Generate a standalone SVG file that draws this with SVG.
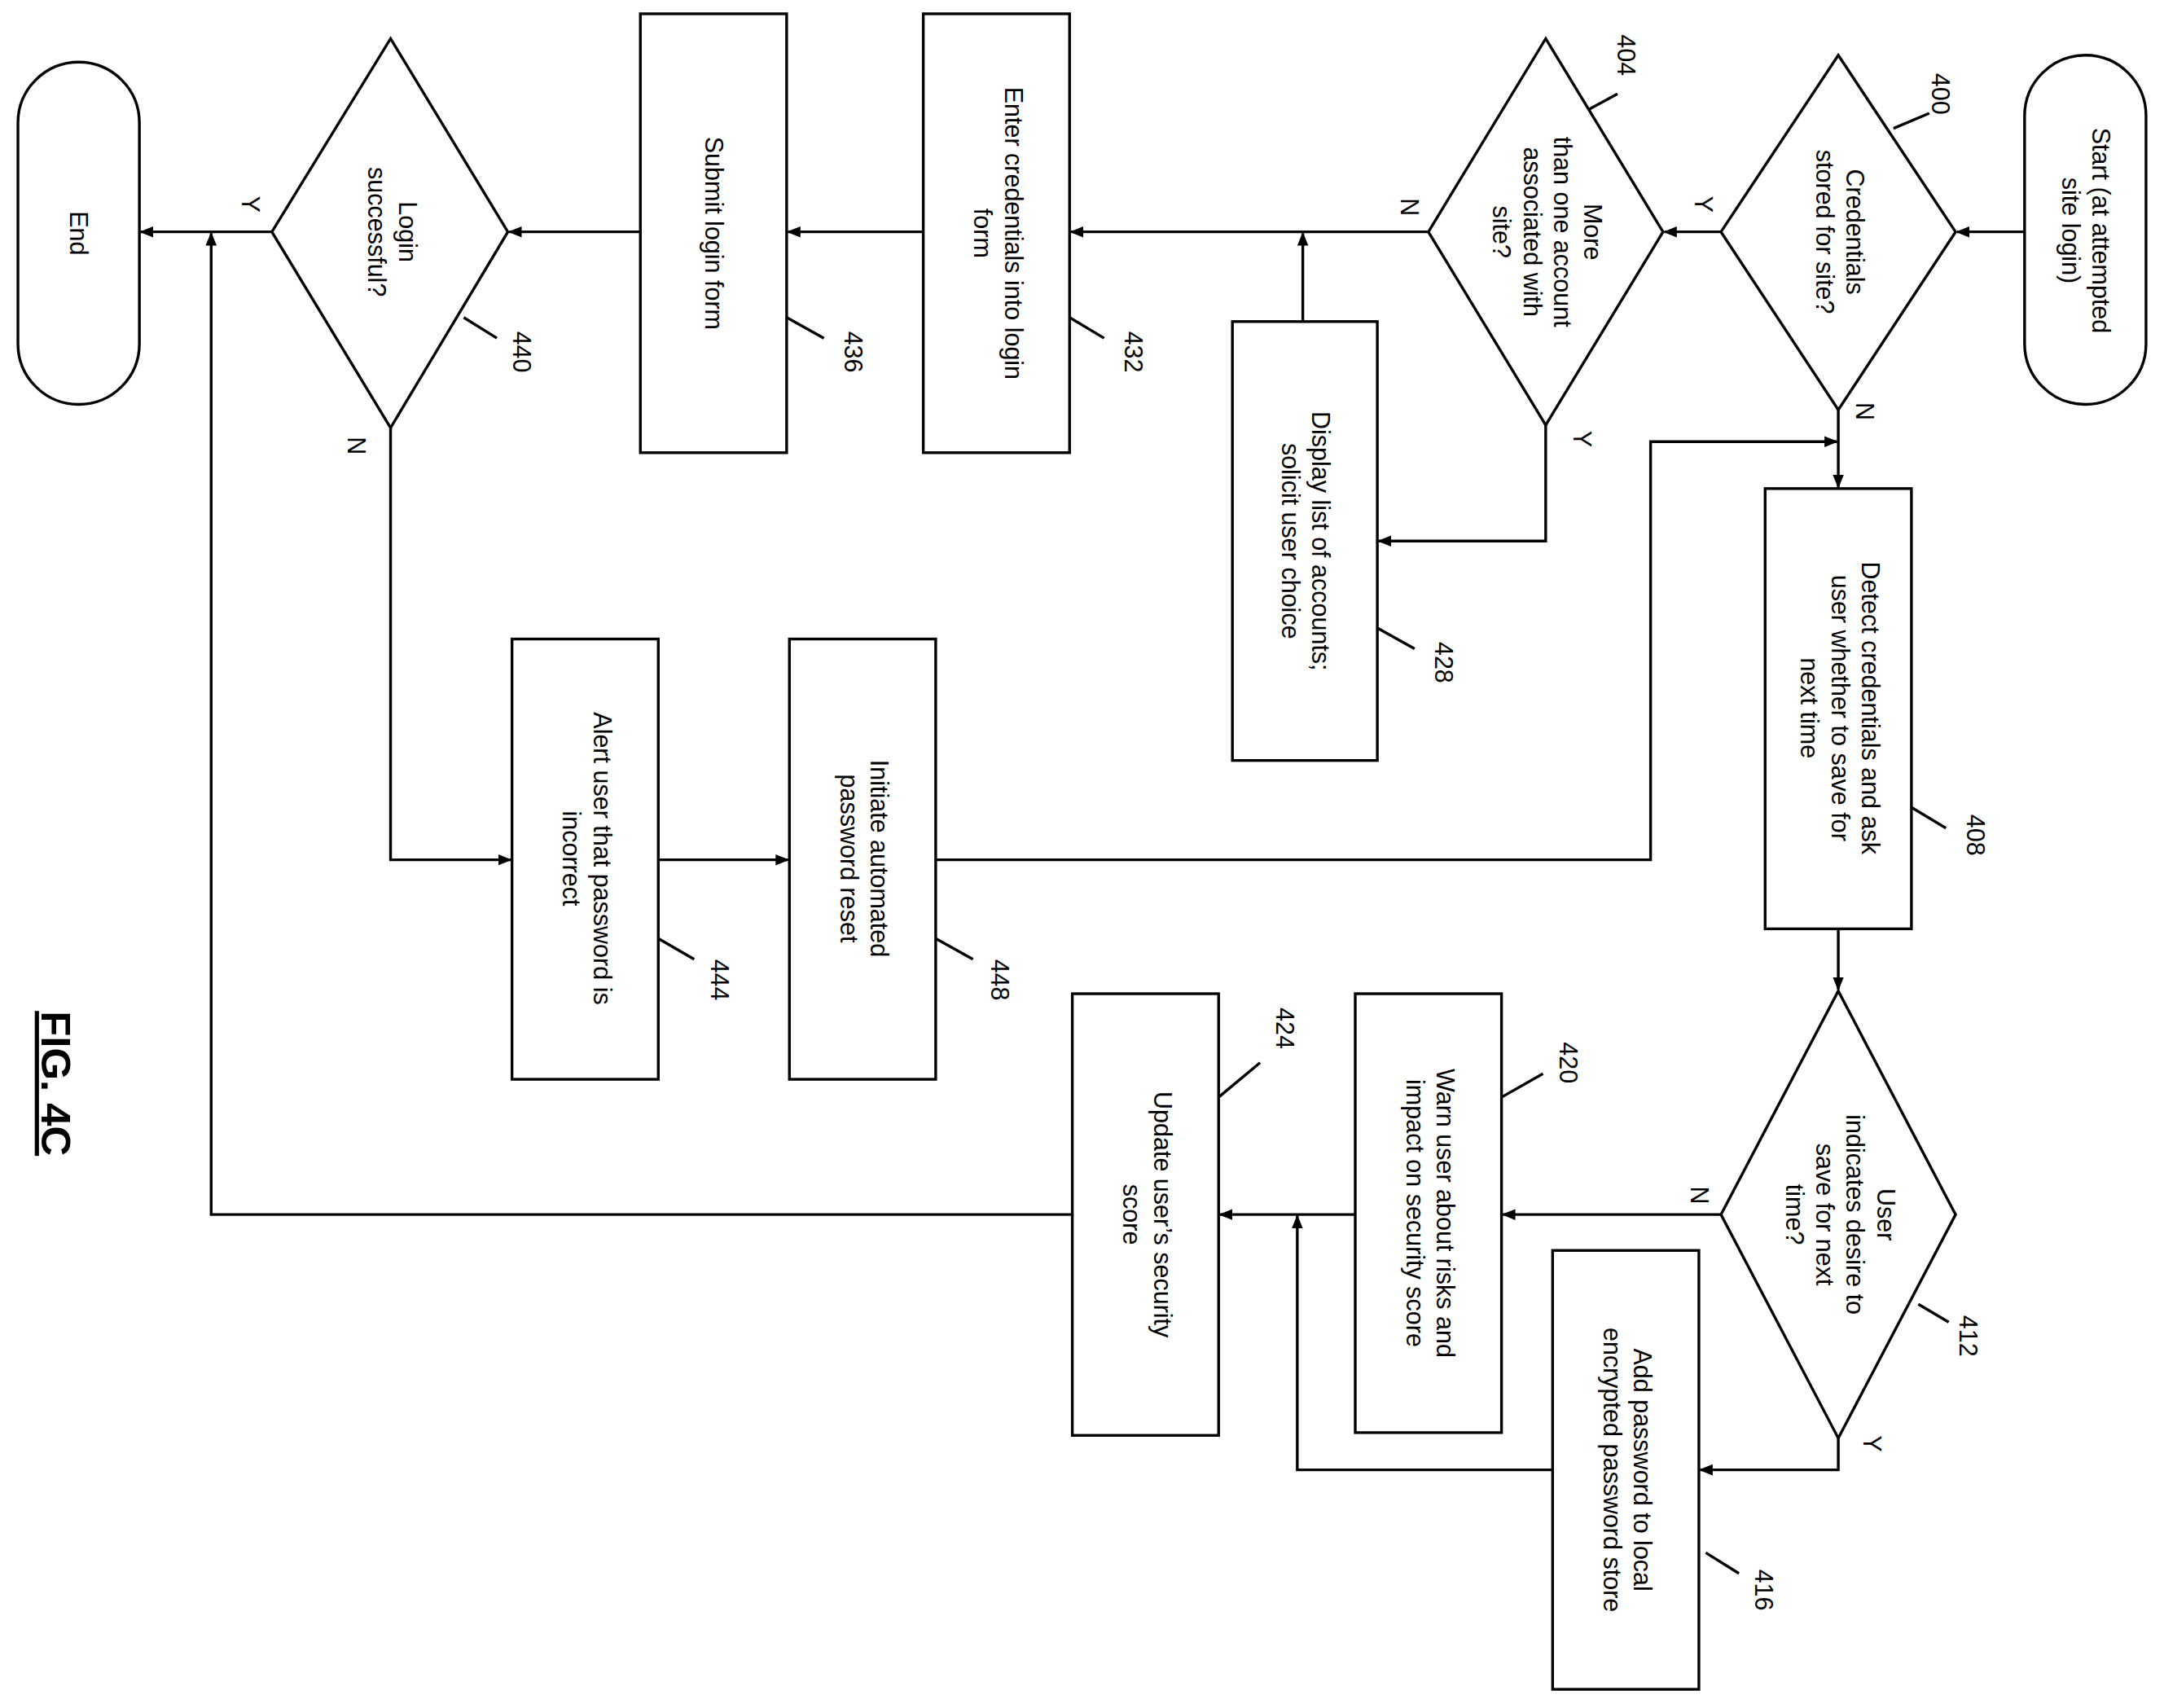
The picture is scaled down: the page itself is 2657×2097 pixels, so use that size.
<svg xmlns="http://www.w3.org/2000/svg" width="2657" height="2097" viewBox="0 0 2657 2097">
<defs><marker id="a" markerWidth="10" markerHeight="10" refX="9" refY="5" orient="auto" markerUnits="userSpaceOnUse"><path d="M0,1 L10,5 L0,9 z" fill="#000"/></marker>
<style>.s{fill:#fff;stroke:#000;stroke-width:2}.c{fill:none;stroke:#000;stroke-width:2}.t{font-family:"Liberation Sans",Arial,sans-serif;font-size:18px;text-anchor:middle}</style></defs>
<rect width="2657" height="2097" fill="#fff"/>
<g transform="scale(1.6945)">
<g id="connectors">
<path class="c" marker-end="url(#a)" d="M1467,168H1418"/>
<path class="c" marker-end="url(#a)" d="M1247,168H1206"/>
<path class="c" marker-end="url(#a)" d="M1332,297V353"/>
<path class="c" marker-end="url(#a)" d="M1035,168H776"/>
<path class="c" marker-end="url(#a)" d="M1120,308V392H999"/>
<path class="c" marker-end="url(#a)" d="M944,233V169"/>
<path class="c" marker-end="url(#a)" d="M669,168H571"/>
<path class="c" marker-end="url(#a)" d="M464,168H369"/>
<path class="c" marker-end="url(#a)" d="M197,168H102"/>
<path class="c" marker-end="url(#a)" d="M283,310V623H370"/>
<path class="c" marker-end="url(#a)" d="M477,623H571"/>
<path class="c" marker-end="url(#a)" d="M678,623H1196V320H1331"/>
<path class="c" marker-end="url(#a)" d="M1332,673V717"/>
<path class="c" marker-end="url(#a)" d="M1247,880H1089"/>
<path class="c" marker-end="url(#a)" d="M1332,1042V1065H1232"/>
<path class="c" marker-end="url(#a)" d="M1125,1065H940V881"/>
<path class="c" marker-end="url(#a)" d="M982,880H884"/>
<path class="c" marker-end="url(#a)" d="M777,880H153V169"/>
<g class="c"><path d="M1372,93L1398,82"/><path d="M1150,80L1172,68"/><path d="M1385,585L1410,600"/><path d="M1390,945L1412,958"/><path d="M1236,1125L1260,1140"/><path d="M1088,795L1118,778"/><path d="M883,795L913,770"/><path d="M998,455L1025,470"/><path d="M775,230L800,245"/><path d="M570,230L597,245"/><path d="M336,230L360,245"/><path d="M477,680L503,695"/><path d="M678,680L705,695"/></g>
<g class="t"><text transform="translate(1228,148) rotate(90)">Y</text><text transform="translate(1345,298) rotate(90)">N</text><text transform="translate(1015,150) rotate(90)">N</text><text transform="translate(1140,318) rotate(90)">Y</text><text transform="translate(175,148) rotate(90)">Y</text><text transform="translate(252,323) rotate(90)">N</text><text transform="translate(1225,866) rotate(90)">N</text><text transform="translate(1350,1046) rotate(90)">Y</text></g>
</g>
<g class="t">
<g id="start"><rect class="s" x="1467" y="40" width="88" height="253" rx="44"/><text transform="translate(1510,167) rotate(90)"><tspan x="0" y="-6">Start (at attempted</tspan><tspan x="0" y="16">site login)</tspan></text></g>
<g id="n400"><path class="s" d="M1332,40L1417,168L1332,297L1247,168z"/><text transform="translate(1332,168) rotate(90)"><tspan x="0" y="-6">Credentials</tspan><tspan x="0" y="16">stored for site?</tspan></text><text transform="translate(1400,68) rotate(90)">400</text></g>
<g id="n404"><path class="s" d="M1120,28L1205,168L1120,308L1035,168z"/><text transform="translate(1120,168) rotate(90)"><tspan x="0" y="-28">More</tspan><tspan x="0" y="-6">than one account</tspan><tspan x="0" y="16">associated with</tspan><tspan x="0" y="38">site?</tspan></text><text transform="translate(1172,40) rotate(90)">404</text></g>
<g id="n428"><rect class="s" x="893" y="233" width="105" height="318"/><text transform="translate(945,392) rotate(90)"><tspan x="0" y="-6">Display list of accounts;</tspan><tspan x="0" y="16">solicit user choice</tspan></text><text transform="translate(1040,480) rotate(90)">428</text></g>
<g id="n432"><rect class="s" x="669" y="10" width="106" height="318"/><text transform="translate(722,169) rotate(90)"><tspan x="0" y="-6">Enter credentials into login</tspan><tspan x="0" y="16">form</tspan></text><text transform="translate(815,255) rotate(90)">432</text></g>
<g id="n436"><rect class="s" x="464" y="10" width="106" height="318"/><text transform="translate(517,169) rotate(90)" y="6">Submit login form</text><text transform="translate(612,255) rotate(90)">436</text></g>
<g id="n440"><path class="s" d="M283,28L368,168L283,310L197,168z"/><text transform="translate(283,168) rotate(90)"><tspan x="0" y="-6">Login</tspan><tspan x="0" y="16">successful?</tspan></text><text transform="translate(372,255) rotate(90)">440</text></g>
<g id="end"><rect class="s" x="13" y="45" width="88" height="248" rx="44"/><text transform="translate(57,169) rotate(90)" y="6">End</text></g>
<g id="n408"><rect class="s" x="1279" y="354" width="106" height="319"/><text transform="translate(1332,513) rotate(90)"><tspan x="0" y="-17">Detect credentials and ask</tspan><tspan x="0" y="5">user whether to save for</tspan><tspan x="0" y="27">next time</tspan></text><text transform="translate(1425,605) rotate(90)">408</text></g>
<g id="n412"><path class="s" d="M1332,718L1417,880L1332,1042L1247,880z"/><text transform="translate(1332,880) rotate(90)"><tspan x="0" y="-28">User</tspan><tspan x="0" y="-6">indicates desire to</tspan><tspan x="0" y="16">save for next</tspan><tspan x="0" y="38">time?</tspan></text><text transform="translate(1420,968) rotate(90)">412</text></g>
<g id="n416"><rect class="s" x="1125" y="906" width="106" height="318"/><text transform="translate(1178,1065) rotate(90)"><tspan x="0" y="-6">Add password to local</tspan><tspan x="0" y="16">encrypted password store</tspan></text><text transform="translate(1272,1152) rotate(90)">416</text></g>
<g id="n420"><rect class="s" x="982" y="720" width="106" height="318"/><text transform="translate(1035,879) rotate(90)"><tspan x="0" y="-6">Warn user about risks and</tspan><tspan x="0" y="16">impact on security score</tspan></text><text transform="translate(1130,770) rotate(90)">420</text></g>
<g id="n424"><rect class="s" x="777" y="720" width="106" height="320"/><text transform="translate(830,880) rotate(90)"><tspan x="0" y="-6">Update user’s security</tspan><tspan x="0" y="16">score</tspan></text><text transform="translate(925,745) rotate(90)">424</text></g>
<g id="n444"><rect class="s" x="371" y="463" width="106" height="319"/><text transform="translate(424,622) rotate(90)"><tspan x="0" y="-6">Alert user that password is</tspan><tspan x="0" y="16">incorrect</tspan></text><text transform="translate(515,710) rotate(90)">444</text></g>
<g id="n448"><rect class="s" x="572" y="463" width="106" height="319"/><text transform="translate(625,622) rotate(90)"><tspan x="0" y="-6">Initiate automated</tspan><tspan x="0" y="16">password reset</tspan></text><text transform="translate(718,710) rotate(90)">448</text></g>
<g id="fig"><text transform="translate(40,785) rotate(90)" style="font-size:30px;font-weight:bold;text-decoration:underline" y="10">FIG. 4C</text></g>
</g>
</g>
</svg>
